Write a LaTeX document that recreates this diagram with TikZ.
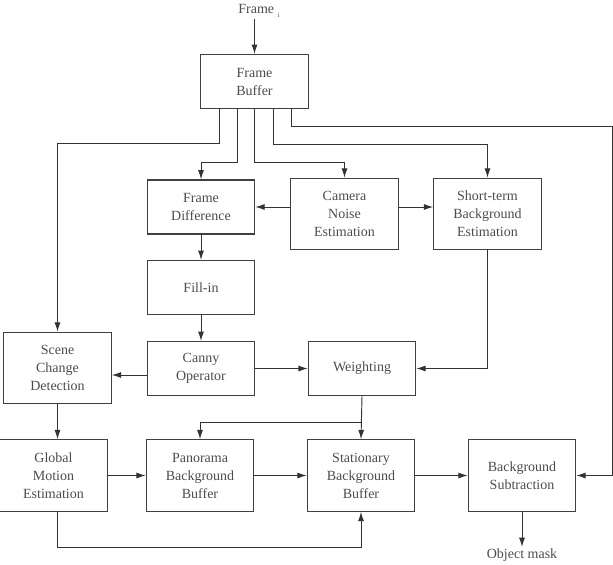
\documentclass[tikz,border=0pt]{standalone}
\usepackage{fontspec}
\setmainfont{Liberation Serif}
\usetikzlibrary{arrows.meta}

\begin{document}
\begin{tikzpicture}[x=0.75pt, y=-0.75pt,
	blk/.style={rectangle, draw=black!75, line width=0.9pt, minimum width=80.5pt, minimum height=40.5pt,
		align=center, inner sep=0pt, text=black!70, font=\fontsize{10.5}{13.5}\selectfont},
	tallblk/.style={blk, minimum height=53.5pt},
	lbl/.style={text=black!70, font=\fontsize{10.5}{13.5}\selectfont, inner sep=1pt},
	arr/.style={-{Latex[length=7pt,width=4.5pt]}, draw=black!80, line width=0.7pt},
	wire/.style={draw=black!80, line width=0.7pt}]
	\useasboundingbox (0,0) rectangle (613,564);

	\node[lbl] (fin) at (259,11) {Frame \raisebox{-0.7ex}{\tiny i}};
	\node[blk] (fb) at (254.5,81.5) {Frame\\Buffer};

	\node[blk] (fd) at (201,207) {Frame\\Difference};
	\node[tallblk] (cne) at (344.5,214) {Camera\\Noise\\Estimation};
	\node[tallblk] (ste) at (487.5,214) {Short-term\\Background\\Estimation};
	\node[blk] (fill) at (201,287.5) {Fill-in};

	\node[tallblk] (scd) at (57.5,368) {Scene\\Change\\Detection};
	\node[blk] (canny) at (201,368.5) {Canny\\Operator};
	\node[blk] (wt) at (362,368.5) {Weighting};

	\node[tallblk] (gme) at (53.5,475.5) {Global\\Motion\\Estimation};
	\node[tallblk] (pbb) at (200,475.5) {Panorama\\Background\\Buffer};
	\node[tallblk] (sbb) at (361,475.5) {Stationary\\Background\\Buffer};
	\node[tallblk] (bs) at (522,475.5) {Background\\Subtraction};
	\node[lbl, anchor=north, inner ysep=1.5pt] (om) at (522,547) {Object mask};

	% input
	\draw[arr] (fin.south -| fb.north) -- (fb.north);

	% taps below the frame buffer
	\coordinate (t1) at (219,109);
	\coordinate (t2) at (237,109);
	\coordinate (t3) at (254,109);
	\coordinate (t4) at (273,109);
	\coordinate (t5) at (291,109);
	\draw[arr] (t1) |- (scd.north |- 0,143) -- (scd.north);
	\draw[arr] (t2) |- (fd.north |- 0,162) -- (fd.north);
	\draw[arr] (t3) |- (cne.north |- 0,162) -- (cne.north);
	\draw[arr] (t4) |- (ste.north |- 0,144) -- (ste.north);
	\draw[arr] (t5) |- (612,126) |- (bs.east);

	% middle part
	\draw[arr] (cne.west |- fd.east) -- (fd.east);
	\draw[arr] (cne.east |- fd.east) -- (ste.west |- fd.east);
	\draw[arr] (fd.south) -- (fill.north);
	\draw[arr] (fill.south) -- (canny.north);
	\draw[arr] (canny.west |- 0,375) -- (scd.east |- 0,375);
	\draw[arr] (canny.east) -- (wt.west);
	\draw[arr] (ste.south) |- (wt.east);

	% bottom row
	\draw[arr] (scd.south) -- (scd.south |- gme.north);
	\draw[arr] (gme.east) -- (pbb.west);
	\draw[arr] (pbb.east) -- (sbb.west);
	\draw[arr] (sbb.east) -- (bs.west);
	\draw[arr] (wt.south) -- (sbb.north);
	\draw[arr] (wt.south |- 0,422) -| (pbb.north);
	\draw[arr] (gme.south -| scd.south) -- ++(0,36) -| (sbb.south);
	\draw[arr] (bs.south) -- (om.north);
\end{tikzpicture}
\end{document}
